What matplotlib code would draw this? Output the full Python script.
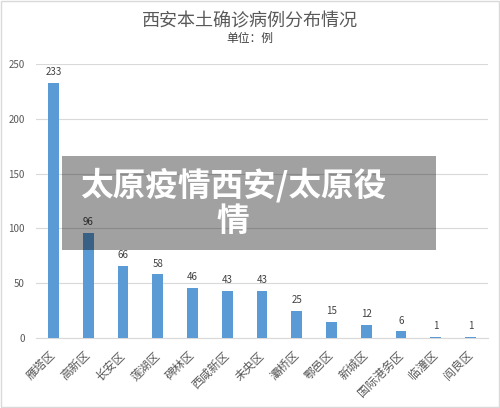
import matplotlib
matplotlib.use("Agg")
import matplotlib.pyplot as plt
from matplotlib.patches import Rectangle

plt.rcParams['font.family'] = ['Noto Sans CJK SC', 'DejaVu Sans']

categories = ["雁塔区", "高新区", "长安区", "莲湖区", "碑林区", "西咸新区", "未央区",
              "灞桥区", "鄠邑区", "新城区", "国际港务区", "临潼区", "阎良区"]
values = [233, 96, 66, 58, 46, 43, 43, 25, 15, 12, 6, 1, 1]
yticks = [0, 50, 100, 150, 200, 250]
title = "西安本土确诊病例分布情况"
subtitle = "单位：例"
overlay_lines = ["太原疫情西安/太原役", "情"]

fig = plt.figure(figsize=(5.0, 4.08), dpi=100)
fig.patch.set_facecolor('white')
ax = fig.add_axes([0.072, 0.1716, 0.904, 0.6714])

x = range(len(categories))
ax.bar(x, values, width=0.31, color='#5B9BD5', zorder=3)
for i, v in zip(x, values):
    ax.text(i, v + 5, str(v), ha='center', va='bottom', fontsize=7, color='#404040')

ax.set_xlim(-0.5, len(categories) - 0.5)
ax.set_ylim(0, 250)
ax.set_yticks(yticks)
ax.set_yticklabels([str(t) for t in yticks], fontsize=7, color='#595959')
ax.yaxis.grid(True, color='#D9D9D9', linewidth=0.8, zorder=0)
ax.set_axisbelow(True)
ax.set_xticks(list(x))
ax.set_xticklabels(categories, rotation=45, ha='right', va='center', rotation_mode='anchor',
                   fontsize=8.5, color='#595959')
ax.tick_params(axis='y', length=0, pad=8)
ax.tick_params(axis='x', length=0, pad=11)
for s in ['top', 'right', 'left']:
    ax.spines[s].set_visible(False)
ax.spines['bottom'].set_color('#D9D9D9')

fig.text(0.5, 1 - 21 / 408, title, ha='center', va='center', fontsize=13, color='#595959')
fig.text(0.5, 1 - 38 / 408, subtitle, ha='center', va='center', fontsize=8.5, color='#404040')

# outer border
fig.patches.append(Rectangle((0.002, 0.002), 0.996, 0.996, transform=fig.transFigure,
                             fill=False, edgecolor='#D9D9D9', linewidth=1.0))

# overlay box
fig.patches.append(Rectangle((0.124, 1 - 250 / 408), 0.748, 94 / 408, transform=fig.transFigure,
                             facecolor='black', alpha=0.37, edgecolor='none', zorder=10))
for line, ypix in zip(overlay_lines, [185, 221]):
    fig.text(0.466, 1 - ypix / 408, line, ha='center', va='center', fontsize=23.5,
             fontweight='heavy', color='white', zorder=11)

fig.savefig('out.png', dpi=100)
